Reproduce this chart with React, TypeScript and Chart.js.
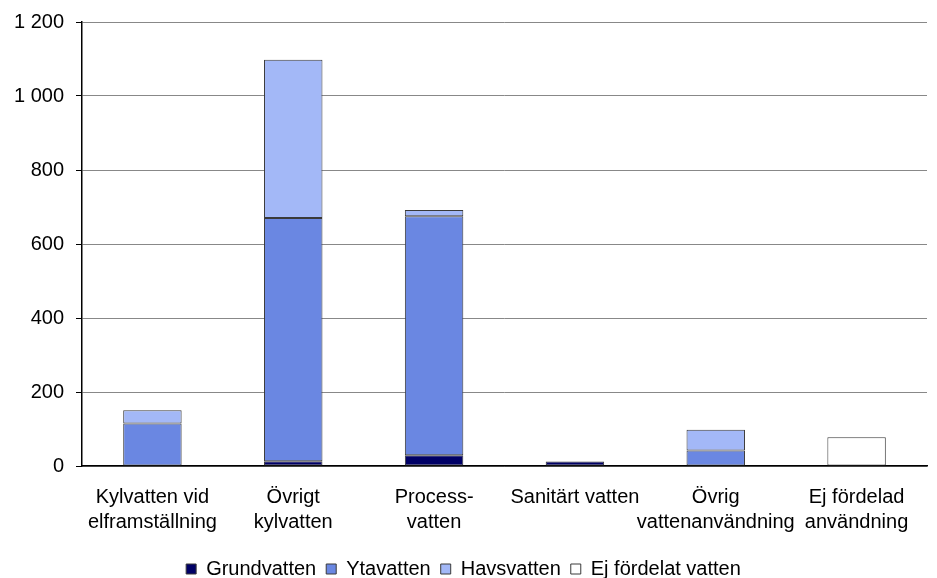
import React, { useEffect, useRef } from "react";
import { Chart, registerables } from "chart.js";

Chart.register(...registerables);

const categories: string[][] = [
  ["Kylvatten vid", "elframställning"],
  ["Övrigt", "kylvatten"],
  ["Process-", "vatten"],
  ["Sanitärt vatten"],
  ["Övrig", "vattenanvändning"],
  ["Ej fördelad", "användning"],
];

const grundvatten = [0, 13, 29, 12, 0, 0];
const ytavatten = [115, 657, 646, 0, 42, 0];
const havsvatten = [36, 428, 17, 0, 56, 0];
const ejFordelat = [0, 0, 0, 0, 0, 78];

const yTicks = [0, 200, 400, 600, 800, 1000, 1200];

const FONT = "'Liberation Sans', Arial, sans-serif";

export default function App() {
  const ref = useRef<HTMLCanvasElement | null>(null);
  useEffect(() => {
    if (!ref.current) return;
    const mk = (label: string, data: number[], color: string) => ({
      label,
      data,
      backgroundColor: color,
      borderColor: "#3a3a3a",
      borderWidth: (ctx: any) => (ctx.raw ? 1 : 0),
      borderSkipped: false,
      barPercentage: 0.415,
      categoryPercentage: 1,
    });
    const chart = new Chart(ref.current, {
      type: "bar",
      data: {
        labels: categories,
        datasets: [
          mk("Grundvatten", grundvatten, "#000066"),
          mk("Ytavatten", ytavatten, "#6a87e2"),
          mk("Havsvatten", havsvatten, "#a3b8f7"),
          mk("Ej fördelat vatten", ejFordelat, "#ffffff"),
        ],
      },
      options: {
        animation: false,
        responsive: true,
        maintainAspectRatio: false,
        layout: { padding: { top: 22, right: 10, left: 0, bottom: -11 } },
        plugins: {
          tooltip: { enabled: false },
          legend: {
            position: "bottom",
            labels: {
              boxWidth: 10,
              boxHeight: 10,
              padding: 10,
              color: "#000",
              font: { family: FONT, size: 20 },
              generateLabels: (c: any) =>
                c.data.datasets.map((d: any, i: number) => ({
                  text: d.label,
                  fillStyle: d.backgroundColor,
                  strokeStyle: "#3a3a3a",
                  lineWidth: 1,
                  datasetIndex: i,
                  hidden: false,
                })),
            },
          },
        },
        scales: {
          x: {
            stacked: true,
            grid: { display: false, drawTicks: false },
            border: { display: true, color: "#000", width: 1.5 },
            ticks: {
              color: "#000",
              font: { family: FONT, size: 20, lineHeight: 1.25 },
              maxRotation: 0,
              autoSkip: false,
              padding: 19,
            },
            afterFit: (s: any) => {
              s.height = 83;
            },
          },
          y: {
            stacked: true,
            min: 0,
            max: 1200,
            afterBuildTicks: (s: any) => {
              s.ticks = yTicks.map((v) => ({ value: v }));
            },
            grid: {
              color: "#888",
              lineWidth: 1,
              drawTicks: true,
              tickLength: 6,
              tickColor: "#000",
            },
            border: { display: true, color: "#000", width: 1.5 },
            ticks: {
              color: "#000",
              font: { family: FONT, size: 20, lineHeight: 1 },
              padding: 12,
              callback: (v: any) =>
                String(v).replace(/\B(?=(\d{3})+(?!\d))/g, " "),
            },
            afterFit: (s: any) => {
              s.width = 82;
            },
          },
        },
      },
    });
    return () => chart.destroy();
  }, []);
  return (
    <div
      style={{
        position: "fixed",
        left: 0,
        top: 0,
        width: 937,
        height: 578,
        background: "#fff",
      }}
    >
      <canvas ref={ref} />
    </div>
  );
}
